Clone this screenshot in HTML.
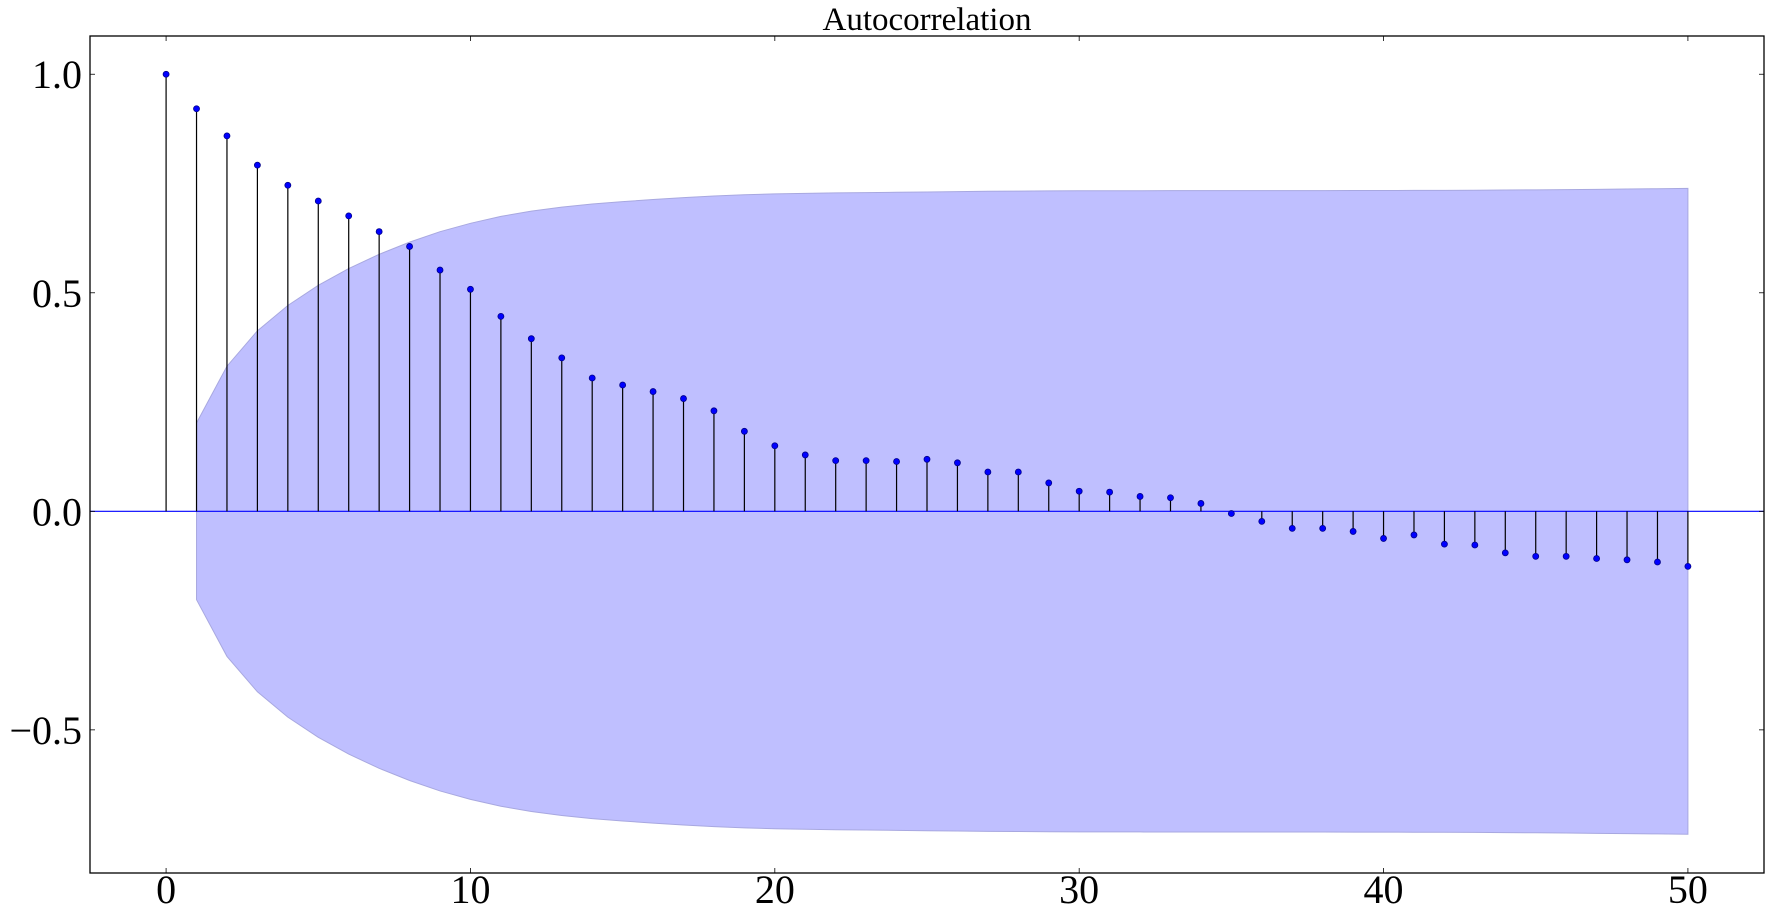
<!DOCTYPE html>
<html><head><meta charset="utf-8">
<style>
html,body{margin:0;padding:0;background:#fff;}
svg{display:block;}
text{font-family:"Liberation Serif",serif;fill:#000;}
</style></head>
<body>
<svg id="chart" width="1770" height="916" viewBox="0 0 1770 916">
  <text x="927" y="30" text-anchor="middle" font-size="33">Autocorrelation</text>
  <g id="band"></g>
  <g id="stems"></g>
  <g id="axes"></g>
</svg>
<script>
const lags = [];
for (let i = 0; i <= 50; i++) lags.push(i);
const acfValues = [1.0,0.921,0.859,0.792,0.746,0.710,0.676,0.640,0.606,0.552,0.508,0.446,0.395,0.351,0.305,0.289,0.274,0.258,0.230,0.183,0.150,0.129,0.116,0.116,0.114,0.119,0.111,0.090,0.090,0.065,0.046,0.044,0.034,0.031,0.018,-0.005,-0.023,-0.039,-0.039,-0.046,-0.062,-0.054,-0.075,-0.077,-0.095,-0.103,-0.103,-0.108,-0.111,-0.116,-0.126];
const nObs = 94;
const xTicks = [0,10,20,30,40,50];
const yTicks = [-0.5,0,0.5,1.0];
const yTickLabels = ["\u22120.5","0.0","0.5","1.0"];

const L=90,R=1764,T=36,B=873;
const xMin=-2.5,xMax=52.5,yMin=-0.8275,yMax=1.0875;
const X=v=>L+(v-xMin)/(xMax-xMin)*(R-L);
const Y=v=>B-(v-yMin)/(yMax-yMin)*(B-T);
const NS="http://www.w3.org/2000/svg";
function mk(tag,attrs,parent){const e=document.createElementNS(NS,tag);for(const k in attrs)e.setAttribute(k,attrs[k]);parent.appendChild(e);return e;}

const band=document.getElementById('band');
let up=[],lo=[];
let cum=0;
for(let k=1;k<lags.length;k++){
  const se=Math.sqrt((1+2*cum)/nObs)*1.96;
  up.push([X(lags[k]),Y(se)]);lo.push([X(lags[k]),Y(-se)]);
  cum+=acfValues[k]*acfValues[k];
}
const pts=up.concat(lo.reverse()).map(p=>p.join(',')).join(' ');
const poly=mk('polygon',{points:pts,fill:'#bfbfff',stroke:'#a8a8e0','stroke-width':1},band);



const stems=document.getElementById('stems');
const zl=mk('line',{x1:L,x2:R,y1:Y(0),y2:Y(0),stroke:'#0000ff','stroke-width':1.2},stems);


for(let i=0;i<lags.length;i++){
  const s=mk('line',{x1:X(lags[i]),x2:X(lags[i]),y1:Y(0),y2:Y(acfValues[i]),stroke:'#000','stroke-width':1.2},stems);
  
  
}
for(let i=0;i<lags.length;i++){
  const c=mk('circle',{cx:X(lags[i]),cy:Y(acfValues[i]),r:3,fill:'#0000ff',stroke:'#00008b','stroke-width':0.8},stems);
  
  
}

const axes=document.getElementById('axes');
const fr=mk('rect',{x:L,y:T,width:R-L,height:B-T,fill:'none',stroke:'#000','stroke-width':1.3},axes);


xTicks.forEach(v=>{
  const x=X(v);
  mk('line',{x1:x,x2:x,y1:B,y2:B-5,stroke:'#000','stroke-width':0.8},axes);
  mk('line',{x1:x,x2:x,y1:T,y2:T+5,stroke:'#000','stroke-width':0.8},axes);
  const t=mk('text',{x:x,y:903,'text-anchor':'middle','font-size':40},axes);
  t.textContent=v;
  
  
});
yTicks.forEach((v,i)=>{
  const y=Y(v);
  mk('line',{x1:L,x2:L+5,y1:y,y2:y,stroke:'#000','stroke-width':0.8},axes);
  mk('line',{x1:R,x2:R-5,y1:y,y2:y,stroke:'#000','stroke-width':0.8},axes);
  const t=mk('text',{x:82,y:y+14,'text-anchor':'end','font-size':40},axes);
  t.textContent=yTickLabels[i];
  
  
});
</script>
</body></html>
